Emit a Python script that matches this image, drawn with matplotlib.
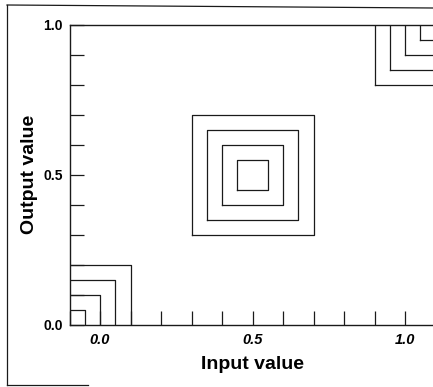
import numpy as np
import matplotlib
matplotlib.use("Agg")
import matplotlib.pyplot as plt
from matplotlib.lines import Line2D

plt.rcParams['font.family'] = ['Liberation Sans', 'DejaVu Sans']

# contour squares: centres and half widths (data units)
centre_x = [-0.1, 0.5, 1.1]
centre_y = [0.0, 0.5, 1.0]
half_widths = [0.05, 0.10, 0.15, 0.20]

x_ticks = np.round(np.arange(-0.1, 1.11, 0.1), 1)
y_ticks = np.round(np.arange(0.0, 1.01, 0.1), 1)
x_labels = {0.0: '0.0', 0.5: '0.5', 1.0: '1.0'}
y_labels = {0.0: '0.0', 0.5: '0.5', 1.0: '1.0'}

fig = plt.figure(figsize=(4.33, 3.87), dpi=100)
ax = fig.add_axes([69.5 / 433, 1 - 325 / 387, 366 / 433, 300.5 / 387])

line_col = '#1a1a1a'
for cx, cy in zip(centre_x, centre_y):
    for h in half_widths:
        xs = [cx - h, cx + h, cx + h, cx - h, cx - h]
        ys = [cy - h, cy - h, cy + h, cy + h, cy - h]
        ax.plot(xs, ys, color=line_col, lw=0.9)

ax.set_xlim(-0.1, 1.1)
ax.set_ylim(0.0, 1.0)

ax.set_xticks(x_ticks)
ax.set_xticklabels([x_labels.get(t, '') for t in x_ticks],
                   fontstyle='italic', fontweight='bold', fontsize=10.5)
ax.set_yticks(y_ticks)
ax.set_yticklabels([y_labels.get(t, '') for t in y_ticks],
                   fontweight='bold', fontsize=10)
ax.tick_params(axis='both', direction='in', length=10, width=0.9, color=line_col)
ax.tick_params(axis='x', pad=6)
ax.tick_params(axis='y', pad=5)

ax.spines['right'].set_visible(False)
for s in ['left', 'bottom', 'top']:
    ax.spines[s].set_linewidth(1.0)
    ax.spines[s].set_color(line_col)

ax.set_xlabel('Input value', fontweight='bold', fontsize=14, labelpad=6)
ax.set_ylabel('Output value', fontweight='bold', fontsize=14, labelpad=4)

# outer frame left from the scanned page
fig.add_artist(Line2D([7 / 433, 7 / 433], [1 - 5 / 387, 1 - 385 / 387],
                      transform=fig.transFigure, color=line_col, lw=0.9))
fig.add_artist(Line2D([7 / 433, 433 / 433], [1 - 5 / 387, 1 - 8 / 387],
                      transform=fig.transFigure, color=line_col, lw=0.9))
fig.add_artist(Line2D([7 / 433, 88 / 433], [1 - 385 / 387, 1 - 385 / 387],
                      transform=fig.transFigure, color=line_col, lw=0.9))

fig.savefig('out.png', dpi=100)
